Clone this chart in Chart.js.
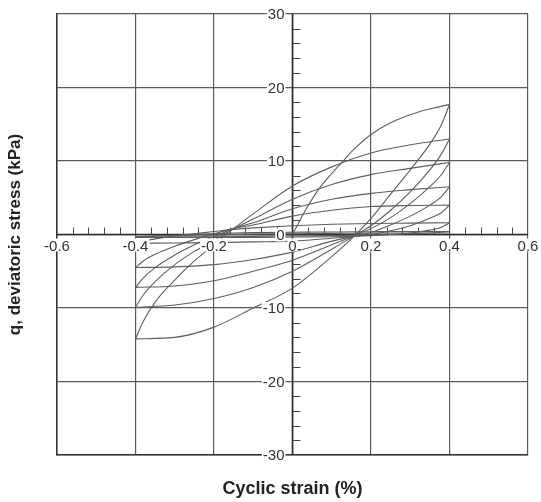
<!DOCTYPE html>
<html>
<head>
<meta charset="utf-8">
<script src="https://cdn.jsdelivr.net/npm/chart.js@4.4.1/dist/chart.umd.min.js"></script>
<style>
  html, body { margin: 0; padding: 0; background: #fff; }
  #wrap { width: 541px; height: 502px; }
</style>
</head>
<body>
<div id="wrap"><canvas id="chart"></canvas></div>
<script>
// strain samples (%) - loading branches dense near -0.4, unloading near +0.4
const loadStrain   = [-0.4, -0.38, -0.35, -0.3, -0.25, -0.2, -0.15, -0.1, 0, 0.1, 0.2, 0.3, 0.4];
const unloadStrain = [-0.4, -0.3, -0.2, -0.1, 0, 0.1, 0.15, 0.2, 0.25, 0.3, 0.35, 0.38, 0.4];
const firstStrain  = [0, 0.033, 0.066, 0.1, 0.13, 0.155, 0.2, 0.25, 0.317, 0.36, 0.4];

// deviatoric stress q (kPa)
const firstLoad = [0, 3.3, 6.1, 8.3, 10.05, 11.5, 13.6, 15.2, 16.6, 17.2, 17.7];

const unload1 = [-14.2, -14.0, -12.6, -10.0, -7.3, -3.0, -0.6, 2.2, 5.5, 8.8, 12.3, 15.0, 17.7];
const unload2 = [-9.9, -9.6, -8.7, -7.2, -5.0, -2.0, -0.4, 1.2, 3.3, 5.8, 8.8, 11.0, 13.0];
const unload3 = [-7.2, -7.0, -6.3, -5.0, -3.5, -1.4, -0.3, 0.8, 2.3, 4.2, 6.5, 8.2, 9.8];
const unload4 = [-4.5, -4.4, -4.1, -3.4, -2.4, -0.9, -0.3, 0.3, 1.3, 2.5, 4.0, 5.2, 6.5];
const unload5 = [-1.2, -1.15, -1.1, -1.0, -0.9, -0.5, -0.3, 0.0, 0.5, 1.2, 2.2, 3.0, 4.0];
const unload6 = [-0.4, -0.4, -0.4, -0.4, -0.35, -0.3, -0.25, -0.15, 0.0, 0.2, 0.6, 1.0, 1.6];
const unload7 = [-0.3, -0.3, -0.3, -0.25, -0.2, -0.15, -0.1, -0.05, 0.0, 0.1, 0.2, 0.3, 0.4];

const reload1 = [-14.2, -11.8, -9.2, -6.2, -3.6, -1.4, 0.8, 2.8, 6.6, 9.2, 11.1, 12.2, 13.0];
const reload2 = [-9.9, -8.2, -6.4, -4.1, -2.3, -0.8, 0.8, 2.1, 4.8, 6.8, 8.15, 9.0, 9.8];
const reload3 = [-7.2, -5.9, -4.5, -2.8, -1.4, -0.3, 0.8, 1.6, 3.5, 4.8, 5.6, 6.1, 6.5];
const reload4 = [-4.5, -3.6, -2.7, -1.6, -0.7, 0.1, 0.8, 1.3, 2.5, 3.3, 3.8, 3.95, 4.0];
const reload5 = [-1.2, -0.9, -0.6, -0.2, 0.1, 0.4, 0.7, 0.9, 1.2, 1.4, 1.5, 1.55, 1.6];
const reload6 = [-0.4, -0.3, -0.2, -0.1, 0.0, 0.1, 0.2, 0.25, 0.3, 0.35, 0.38, 0.4, 0.4];
const reload7 = [-0.3, -0.25, -0.2, -0.15, -0.1, -0.05, 0.0, 0.05, 0.1, 0.15, 0.2, 0.2, 0.2];

const xTickValues = [-0.6, -0.4, -0.2, 0, 0.2, 0.4, 0.6];
const xTickLabels = ['-0.6', '-0.4', '-0.2', '0', '0.2', '0.4', '0.6'];
const yTickValues = [30, 20, 10, 0, -10, -20, -30];
const yTickLabels = ['30', '20', '10', '0', '-10', '-20', '-30'];

function branch(xs, ys) {
    return {
        data: xs.map((x, i) => ({ x: x, y: ys[i] })),
        showLine: true,
        borderColor: '#5e5e5e',
        borderWidth: 1.1,
        pointRadius: 0,
        cubicInterpolationMode: 'monotone',
        fill: false
    };
}

const datasets = [branch(firstStrain, firstLoad)];
[unload1, unload2, unload3, unload4, unload5, unload6, unload7].forEach(ys => datasets.push(branch(unloadStrain, ys)));
[reload1, reload2, reload3, reload4, reload5, reload6, reload7].forEach(ys => datasets.push(branch(loadStrain, ys)));

// axes through the origin, with minor ticks and labels
const centerAxes = {
    id: 'centerAxes',
    beforeDatasetsDraw(chart) {
        const { ctx, chartArea, scales: { x, y } } = chart;
        const x0 = x.getPixelForValue(0);
        const y0 = y.getPixelForValue(0);
        ctx.save();
        ctx.strokeStyle = '#2a2a2a';
        ctx.lineWidth = 1.6;
        ctx.beginPath();
        ctx.moveTo(chartArea.left, y0);
        ctx.lineTo(chartArea.right, y0);
        ctx.moveTo(x0, chartArea.top);
        ctx.lineTo(x0, chartArea.bottom);
        ctx.stroke();

        ctx.lineWidth = 1;
        ctx.strokeStyle = '#444';
        ctx.beginPath();
        // x minor ticks every 0.04, pointing up
        for (let k = -15; k <= 15; k++) {
            if (k % 5 === 0) continue;
            const px = Math.round(x.getPixelForValue(k * 0.04)) + 0.5;
            ctx.moveTo(px, y0);
            ctx.lineTo(px, y0 - 7);
        }
        // y minor ticks every 2, pointing right
        for (let k = -15; k <= 15; k++) {
            if (k % 5 === 0) continue;
            const py = Math.round(y.getPixelForValue(k * 2)) + 0.5;
            ctx.moveTo(x0, py);
            ctx.lineTo(x0 + 8, py);
        }
        ctx.stroke();
        ctx.restore();
    },
    afterDatasetsDraw(chart) {
        const { ctx, scales: { x, y } } = chart;
        const x0 = x.getPixelForValue(0);
        const y0 = y.getPixelForValue(0);
        ctx.save();
        ctx.font = '15px "Liberation Sans", Arial, sans-serif';
        // x labels under the axis, on a white patch
        ctx.textAlign = 'center';
        ctx.textBaseline = 'top';
        xTickValues.forEach((v, i) => {
            const px = x.getPixelForValue(v);
            const w = ctx.measureText(xTickLabels[i]).width;
            ctx.fillStyle = '#fff';
            ctx.fillRect(px - w / 2 - 1, y0 + 4, w + 2, 13);
            ctx.fillStyle = '#333';
            ctx.fillText(xTickLabels[i], px, y0 + 5);
        });
        // y labels left of the axis
        ctx.textAlign = 'right';
        ctx.textBaseline = 'middle';
        yTickValues.forEach((v, i) => {
            const py = y.getPixelForValue(v);
            const w = ctx.measureText(yTickLabels[i]).width;
            ctx.fillStyle = '#fff';
            ctx.fillRect(x0 - 8 - w - 1, py - 6, w + 2, 13);
            ctx.fillStyle = '#333';
            ctx.fillText(yTickLabels[i], x0 - 8, py + 1);
        });
        ctx.restore();
    }
};

new Chart(document.getElementById('chart'), {
    type: 'scatter',
    data: { datasets: datasets },
    plugins: [centerAxes],
    options: {
        responsive: true,
        maintainAspectRatio: false,
        animation: false,
        layout: { padding: { left: 5, right: 13, top: 14, bottom: 2 } },
        plugins: { legend: { display: false }, tooltip: { enabled: false } },
        scales: {
            x: {
                type: 'linear',
                min: -0.6,
                max: 0.6,
                ticks: { display: false, stepSize: 0.2 },
                grid: { color: '#5a5a5a', lineWidth: 1.2, drawTicks: false },
                border: { display: true, color: '#333', width: 1.5 },
                title: {
                    display: true,
                    text: 'Cyclic strain (%)',
                    color: '#222',
                    font: { family: '"Liberation Sans", Arial, sans-serif', size: 18, weight: 'bold' },
                    padding: { top: 23.4, bottom: 0 }
                }
            },
            y: {
                type: 'linear',
                min: -30,
                max: 30,
                ticks: { display: false, stepSize: 10 },
                grid: { color: '#5a5a5a', lineWidth: 1.2, drawTicks: false },
                border: { display: true, color: '#333', width: 1.5 },
                title: {
                    display: true,
                    text: 'q, deviatoric stress (kPa)',
                    color: '#222',
                    font: { family: '"Liberation Sans", Arial, sans-serif', size: 17, weight: 'bold' },
                    padding: { top: 0, bottom: 31.6 }
                }
            }
        }
    }
});
</script>
</body>
</html>
